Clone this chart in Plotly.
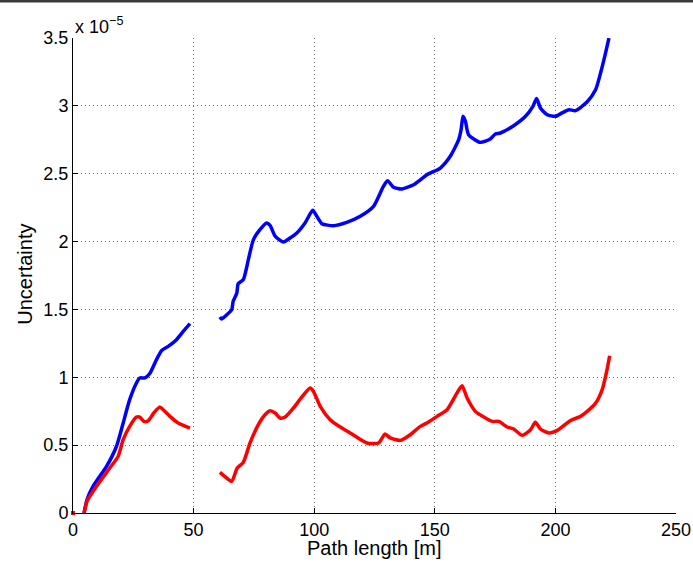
import plotly.graph_objects as go

# Units of 1e-5 (the axis multiplier is shown as "x 10^-5")
blue_x1 = [4.6, 5.8, 8.3, 13.9, 18.0, 20.8, 23.5, 26.3, 27.7, 29.8, 31.9, 34.6, 36.7, 39.5, 42.9, 45.7, 48.5]
blue_y1 = [0.0, 0.098, 0.196, 0.343, 0.49, 0.663, 0.835, 0.958, 0.995, 0.995, 1.03, 1.13, 1.196, 1.228, 1.277, 1.338, 1.395]

red_x1 = [4.6, 5.8, 9.7, 15.2, 18.7, 20.8, 23.5, 26.3, 27.7, 29.4, 31.2, 33.5, 36.0, 37.4, 40.2, 43.6, 48.5]
red_y1 = [0.0, 0.086, 0.196, 0.33, 0.417, 0.54, 0.638, 0.707, 0.707, 0.675, 0.68, 0.737, 0.781, 0.761, 0.712, 0.663, 0.626]

blue_x2 = [60.9, 61.6, 63.7, 65.8, 66.4, 67.9, 68.5, 70.6, 72.7, 74.8, 77.5, 80.3, 81.7, 83.8, 87.2, 90.0, 92.8,
           96.2, 99.4, 101.1, 103.2, 108.0, 113.5, 119.1, 124.6, 128.7, 130.4, 132.9, 136.4, 141.2, 146.8,
           152.3, 156.4, 159.9, 160.9, 161.7, 162.7, 164.0, 168.9, 173.0, 175.1, 177.2, 182.7, 187.6, 190.8,
           192.2, 193.8, 196.6, 200.0, 202.8, 205.6, 208.3, 213.2, 216.7, 218.7, 220.8, 222.2]
blue_y2 = [1.444, 1.43, 1.46, 1.498, 1.56, 1.62, 1.69, 1.72, 1.867, 2.014, 2.088, 2.137, 2.12, 2.04, 1.997, 2.026, 2.063,
           2.137, 2.23, 2.186, 2.132, 2.117, 2.141, 2.186, 2.259, 2.407, 2.449, 2.40, 2.388, 2.419, 2.493,
           2.542, 2.628, 2.751, 2.825, 2.923, 2.886, 2.788, 2.731, 2.756, 2.793, 2.80, 2.854, 2.923, 3.0,
           3.055, 2.984, 2.935, 2.923, 2.948, 2.972, 2.965, 3.03, 3.12, 3.24, 3.39, 3.50]

red_x2 = [60.9, 63.7, 65.8, 68.1, 70.6, 73.4, 76.8, 79.6, 81.7, 83.8, 85.8, 87.9, 91.4, 94.9, 98.3, 99.7, 102.5,
          106.6, 110.8, 114.9, 121.8, 126.7, 129.4, 131.5, 135.7, 139.8, 144.0, 147.4, 150.9, 155.1, 159.2,
          161.3, 163.4, 166.8, 170.3, 173.8, 176.5, 180.0, 182.7, 186.2, 189.7, 191.7, 193.8, 197.3, 200.8,
          206.3, 210.4, 213.2, 216.7, 219.4, 221.1, 222.5]
red_y2 = [0.299, 0.258, 0.233, 0.332, 0.373, 0.516, 0.65, 0.724, 0.754, 0.737, 0.70, 0.707, 0.774, 0.855, 0.921, 0.896, 0.786,
          0.688, 0.634, 0.59, 0.516, 0.516, 0.582, 0.553, 0.535, 0.577, 0.638, 0.67, 0.712, 0.761, 0.884,
          0.938, 0.847, 0.749, 0.707, 0.675, 0.675, 0.634, 0.619, 0.572, 0.614, 0.668, 0.619, 0.59, 0.609,
          0.682, 0.712, 0.749, 0.81, 0.909, 1.03, 1.159]

origin_x = [0]
origin_y = [0]

x_ticks = [0, 50, 100, 150, 200, 250]
y_ticks = [0, 0.5, 1, 1.5, 2, 2.5, 3, 3.5]
y_ticklabels = ["0", "0.5", "1", "1.5", "2", "2.5", "3", "3.5"]

BLUE = "#0000ff"
RED = "#ff0000"
FONT = "Liberation Sans, Arial, sans-serif"

fig = go.Figure()
for xs, ys, c in [(blue_x1, blue_y1, BLUE), (blue_x2, blue_y2, BLUE),
                  (red_x1, red_y1, RED), (red_x2, red_y2, RED)]:
    fig.add_trace(go.Scatter(x=xs, y=ys, mode="lines",
                             line=dict(color=c, width=3.5, shape="spline", smoothing=0.6),
                             showlegend=False, hoverinfo="skip"))
fig.add_trace(go.Scatter(x=origin_x, y=origin_y, mode="markers",
                         marker=dict(color=RED, size=4, symbol="square"),
                         showlegend=False, cliponaxis=False, hoverinfo="skip"))

axis_common = dict(
    showgrid=True, gridcolor="#707070", griddash="1px,3px", gridwidth=1,
    showline=True, linecolor="black", linewidth=1,
    ticks="inside", ticklen=5, tickcolor="black",
    zeroline=False, automargin=False,
    tickfont=dict(family=FONT, size=18, color="black"),
)

fig.update_layout(
    width=693, height=563,
    margin=dict(l=73, r=17, t=38, b=50),
    paper_bgcolor="white", plot_bgcolor="white",
    xaxis=dict(range=[0, 250], tickvals=x_ticks, **axis_common),
    yaxis=dict(range=[0, 3.5], tickvals=y_ticks, ticktext=y_ticklabels, **axis_common),
    annotations=[
        dict(text="x 10<sup>\u22125</sup>", xref="paper", yref="paper", x=0, y=1,
             xanchor="left", yanchor="bottom", showarrow=False, yshift=-1,
             font=dict(family=FONT, size=18, color="black")),
        dict(text="Path length [m]", xref="paper", yref="paper", x=0.5, y=0,
             xanchor="center", yanchor="top", showarrow=False, yshift=-22,
             font=dict(family=FONT, size=20, color="black")),
        dict(text="Uncertainty", xref="paper", yref="paper", x=-0.081, y=0.502,
             xanchor="center", yanchor="middle", showarrow=False, textangle=-90,
             font=dict(family=FONT, size=20, color="black")),
    ],
    shapes=[dict(type="line", xref="paper", yref="paper", x0=-0.2, x1=1.2, y0=1.078, y1=1.078,
                 line=dict(color="#3a3a3a", width=3))],
)

fig.write_html("out.html", config={"displayModeBar": False},
               post_script="document.body.style.margin='0';")
